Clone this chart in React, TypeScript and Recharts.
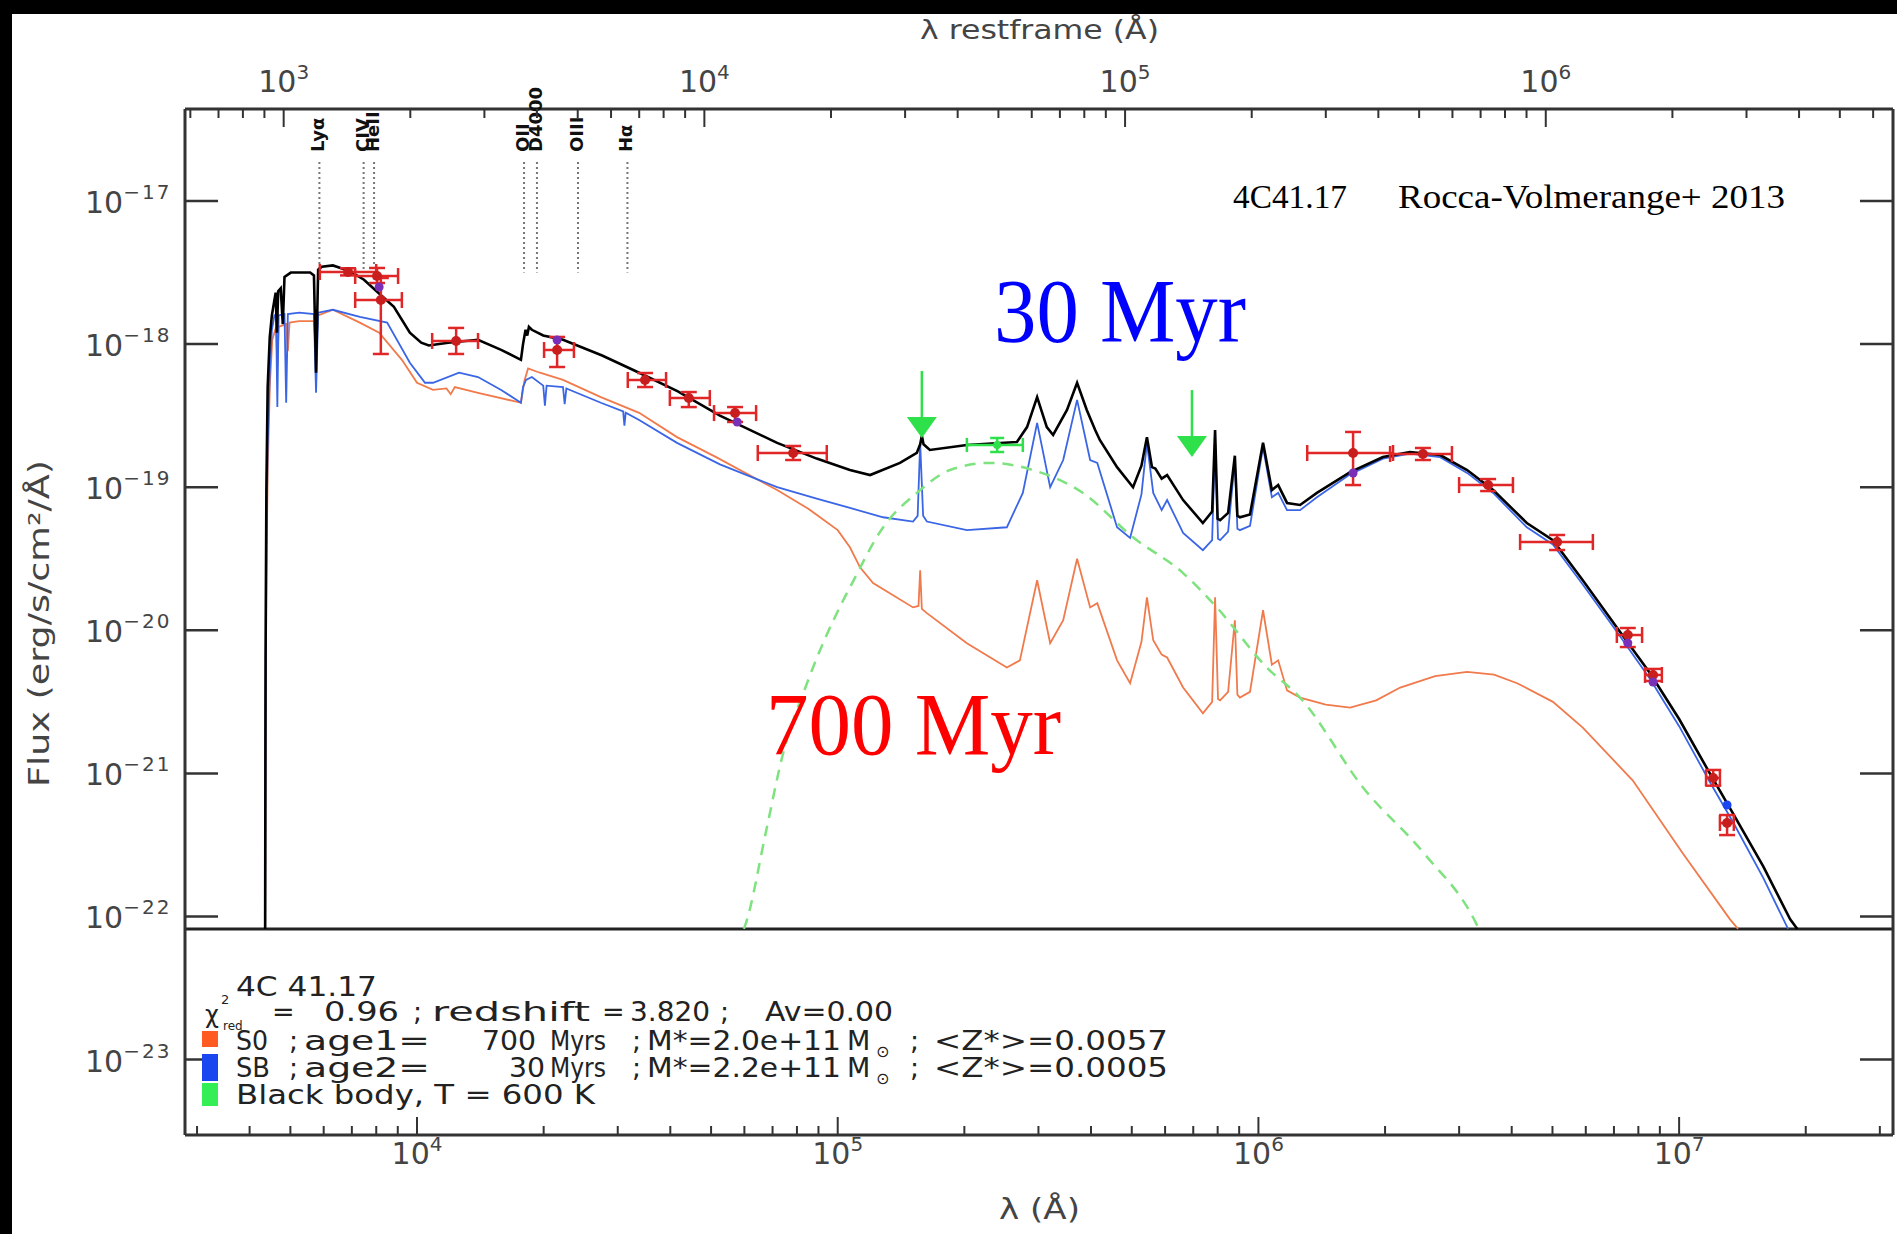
import React from 'react';
import { ComposedChart, Line, Scatter, XAxis, YAxis, ErrorBar, ReferenceLine } from 'recharts';

const W = 1897;
const H = 1234;

// axes work in log10 units
const X_MIN = 3.4485;
const X_MAX = 7.5084;
const Y_MIN = -23.527;
const Y_MAX = -16.357;
const PANEL_BOTTOM = -22.087;
const LINE_TOP = -16.727;
const LINE_BOTTOM = -17.5;
const REDSHIFT = 3.82;
const REST_SHIFT = Math.log10(1 + REDSHIFT);

const obsDecades = [4, 5, 6, 7];
const restDecades = [3, 4, 5, 6];
const fluxDecades = [-17, -18, -19, -20, -21, -22, -23];
const minorSteps = [2, 3, 4, 5, 6, 7, 8, 9];

// [log10 lambda_obs (A), log10 F_lambda (erg/s/cm2/A)]
const sedTotal: [number, number][] = [
  [3.639, -22.087], [3.64, -20.2], [3.642, -19.0], [3.645, -18.3], [3.65, -17.95], [3.655, -17.8],
  [3.66, -17.71], [3.664, -17.64], [3.667, -17.92], [3.67, -17.63], [3.676, -17.61], [3.681, -17.86],
  [3.685, -17.53], [3.7, -17.5], [3.746, -17.5], [3.755, -17.52], [3.76, -18.2], [3.765, -17.48],
  [3.774, -17.46], [3.8, -17.45], [3.84, -17.49], [3.874, -17.55], [3.9, -17.62], [3.945, -17.74],
  [3.983, -17.92], [4.01, -17.99], [4.028, -18.01], [4.074, -17.99], [4.145, -17.97], [4.2, -18.04],
  [4.247, -18.11], [4.252, -18.0], [4.258, -17.9], [4.262, -17.94], [4.266, -17.88], [4.273, -17.9],
  [4.3, -17.94], [4.347, -17.97], [4.44, -18.08], [4.528, -18.2], [4.62, -18.33], [4.72, -18.5],
  [4.856, -18.69], [4.95, -18.8], [5.029, -18.88], [5.077, -18.915], [5.148, -18.83], [5.188, -18.76],
  [5.196, -18.7], [5.2, -18.64], [5.204, -18.7], [5.219, -18.74], [5.307, -18.705], [5.426, -18.684],
  [5.45, -18.58], [5.474, -18.37], [5.497, -18.58], [5.512, -18.635], [5.545, -18.46], [5.569, -18.27],
  [5.592, -18.46], [5.612, -18.6], [5.623, -18.67], [5.664, -18.86], [5.702, -19.0], [5.722, -18.85],
  [5.735, -18.65], [5.747, -18.86], [5.755, -18.87], [5.77, -18.94], [5.783, -18.915], [5.821, -19.09],
  [5.868, -19.25], [5.89, -19.17], [5.897, -18.6], [5.903, -19.22], [5.909, -19.23], [5.928, -19.18],
  [5.944, -18.78], [5.95, -19.2], [5.956, -19.21], [5.98, -19.19], [6.011, -18.69], [6.032, -19.02],
  [6.047, -18.985], [6.068, -19.11], [6.099, -19.124], [6.139, -19.04], [6.218, -18.894], [6.296, -18.789],
  [6.36, -18.754], [6.432, -18.775], [6.496, -18.88], [6.558, -19.02], [6.638, -19.25], [6.7, -19.37],
  [6.771, -19.65], [6.852, -19.98], [6.931, -20.3], [7.0, -20.62], [7.073, -21.0], [7.128, -21.28],
  [7.2, -21.65], [7.264, -22.02], [7.281, -22.087],
];

const sedSB: [number, number][] = [
  [3.639, -22.087], [3.64, -20.5], [3.642, -19.4], [3.645, -18.7], [3.65, -18.2], [3.655, -17.9],
  [3.661, -17.8], [3.665, -17.79], [3.668, -18.44], [3.671, -17.8], [3.685, -17.79], [3.689, -18.41],
  [3.693, -17.79], [3.72, -17.78], [3.755, -17.79], [3.76, -18.34], [3.765, -17.78], [3.8, -17.76],
  [3.864, -17.81], [3.929, -17.85], [3.983, -18.13], [4.019, -18.27], [4.038, -18.27], [4.1, -18.2],
  [4.145, -18.23], [4.2, -18.32], [4.247, -18.41], [4.252, -18.3], [4.259, -18.25], [4.273, -18.23],
  [4.3, -18.29], [4.304, -18.43], [4.308, -18.29], [4.347, -18.3], [4.351, -18.42], [4.355, -18.31],
  [4.437, -18.41], [4.49, -18.47], [4.493, -18.57], [4.496, -18.48], [4.528, -18.53], [4.618, -18.69],
  [4.72, -18.84], [4.856, -19.0], [4.95, -19.08], [5.029, -19.145], [5.108, -19.21], [5.179, -19.24],
  [5.19, -19.2], [5.196, -18.69], [5.203, -19.2], [5.212, -19.24], [5.307, -19.3], [5.402, -19.28],
  [5.44, -19.04], [5.474, -18.55], [5.505, -19.0], [5.536, -18.81], [5.569, -18.39], [5.6, -18.81],
  [5.617, -18.83], [5.664, -19.28], [5.695, -19.355], [5.722, -19.05], [5.735, -18.69], [5.75, -19.04],
  [5.77, -19.16], [5.783, -19.09], [5.821, -19.32], [5.868, -19.44], [5.89, -19.37], [5.897, -18.67],
  [5.904, -19.36], [5.909, -19.37], [5.928, -19.31], [5.944, -18.81], [5.95, -19.29], [5.956, -19.3],
  [5.98, -19.27], [6.011, -18.72], [6.032, -19.07], [6.047, -19.04], [6.068, -19.16], [6.099, -19.16],
  [6.139, -19.07], [6.218, -18.91], [6.296, -18.8], [6.36, -18.765], [6.432, -18.79], [6.496, -18.9],
  [6.558, -19.04], [6.638, -19.28], [6.7, -19.4], [6.771, -19.68], [6.852, -20.01], [6.931, -20.34],
  [7.0, -20.67], [7.073, -21.06], [7.128, -21.34], [7.2, -21.73], [7.259, -22.087],
];

const sedS0: [number, number][] = [
  [3.639, -22.087], [3.64, -20.8], [3.642, -19.6], [3.645, -18.9], [3.65, -18.3], [3.656, -17.97],
  [3.665, -17.88], [3.668, -18.15], [3.671, -17.88], [3.689, -17.86], [3.693, -18.05], [3.697, -17.85],
  [3.72, -17.84], [3.755, -17.84], [3.76, -18.05], [3.765, -17.8], [3.8, -17.76], [3.864, -17.85],
  [3.91, -17.92], [3.964, -18.11], [4.0, -18.27], [4.038, -18.32], [4.07, -18.31], [4.08, -18.35],
  [4.09, -18.3], [4.145, -18.34], [4.247, -18.41], [4.255, -18.26], [4.264, -18.17], [4.292, -18.2],
  [4.347, -18.25], [4.437, -18.37], [4.528, -18.48], [4.618, -18.65], [4.711, -18.79], [4.856, -19.02],
  [4.93, -19.15], [5.0, -19.3], [5.029, -19.42], [5.053, -19.56], [5.084, -19.67], [5.179, -19.84],
  [5.192, -19.83], [5.196, -19.58], [5.2, -19.85], [5.212, -19.88], [5.307, -20.09], [5.402, -20.26],
  [5.433, -20.21], [5.474, -19.65], [5.505, -20.09], [5.536, -19.93], [5.569, -19.5], [5.6, -19.84],
  [5.617, -19.81], [5.664, -20.21], [5.695, -20.37], [5.722, -20.08], [5.735, -19.77], [5.75, -20.07],
  [5.77, -20.17], [5.783, -20.19], [5.821, -20.4], [5.868, -20.58], [5.89, -20.5], [5.897, -19.77],
  [5.904, -20.48], [5.909, -20.49], [5.928, -20.43], [5.944, -19.93], [5.95, -20.45], [5.956, -20.47],
  [5.98, -20.43], [6.011, -19.86], [6.032, -20.24], [6.047, -20.21], [6.068, -20.42], [6.099, -20.47],
  [6.16, -20.52], [6.218, -20.54], [6.28, -20.49], [6.337, -20.4], [6.42, -20.32], [6.496, -20.29],
  [6.56, -20.31], [6.615, -20.37], [6.7, -20.5], [6.771, -20.68], [6.89, -21.05], [7.009, -21.56],
  [7.121, -22.02], [7.14, -22.087],
];

const sedBB: [number, number][] = [
  [4.777, -22.087], [4.782, -22.045], [4.83, -21.4], [4.868, -20.885], [4.927, -20.37], [5.013, -19.79],
  [5.029, -19.7], [5.108, -19.28], [5.188, -19.04], [5.267, -18.88], [5.362, -18.83], [5.464, -18.88],
  [5.583, -19.04], [5.702, -19.35], [5.821, -19.6], [5.901, -19.84], [6.02, -20.26], [6.099, -20.47],
  [6.249, -21.1], [6.394, -21.56], [6.517, -22.045], [6.524, -22.087],
];

// photometry (red), log10 units
const photLam = [3.836, 3.905, 3.914, 4.093, 4.333, 4.542, 4.646, 4.756, 4.894, 6.225, 6.391, 6.546, 6.71, 6.878, 6.938, 7.081, 7.114];
const photFlux = [-17.496, -17.524, -17.692, -17.978, -18.041, -18.251, -18.377, -18.482, -18.761, -18.761, -18.768, -18.985, -19.383, -20.033, -20.312, -21.032, -21.347];
const photLamLo = [3.769, 3.853, 3.853, 4.036, 4.302, 4.501, 4.601, 4.706, 4.81, 6.116, 6.313, 6.477, 6.622, 6.852, 6.919, 7.064, 7.097];
const photLamHi = [3.903, 3.955, 3.964, 4.145, 4.373, 4.592, 4.696, 4.806, 4.974, 6.32, 6.46, 6.605, 6.795, 6.912, 6.959, 7.097, 7.13];
const photFluxLo = [-17.52, -17.573, -18.069, -18.069, -18.16, -18.3, -18.44, -18.544, -18.81, -18.985, -18.81, -19.027, -19.439, -20.117, -20.354, -21.086, -21.431];
const photFluxHi = [-17.47, -17.468, -17.538, -17.887, -17.95, -18.202, -18.335, -18.44, -18.712, -18.614, -18.726, -18.943, -19.334, -19.984, -20.27, -20.976, -21.291];

// model fluxes in the filters
const modelLam = [3.91, 4.333, 4.761, 6.225, 6.878, 6.938];
const modelFlux = [-17.601, -17.971, -18.544, -18.901, -20.089, -20.361];
const modelSBLam = [7.114];
const modelSBFlux = [-21.221];

// green: dust point and upper limits
const irLam = [5.379];
const irFlux = [-18.705];
const irLamLo = [5.307];
const irLamHi = [5.44];
const irFluxLo = [-18.754];
const irFluxHi = [-18.656];
const limitLam = [5.2, 5.842];
const limitFlux = [-18.188, -18.321];

// spectral features (rest frame, A)
const featureNames = ['Lyα', 'CIV', 'HeII', 'OII', 'D4000', 'OIII', 'Hα'];
const featureRest = [1216, 1549, 1640, 3727, 4000, 5007, 6563];

const toXY = (pts: [number, number][]) => pts.map(([x, y]) => ({ x, y }));

const photData = photLam.map((x, i) => ({
  x,
  y: photFlux[i],
  ex: [x - photLamLo[i], photLamHi[i] - x],
  ey: [photFlux[i] - photFluxLo[i], photFluxHi[i] - photFlux[i]],
}));
const irData = irLam.map((x, i) => ({
  x,
  y: irFlux[i],
  ex: [x - irLamLo[i], irLamHi[i] - x],
  ey: [irFlux[i] - irFluxLo[i], irFluxHi[i] - irFlux[i]],
}));
const modelData = modelLam.map((x, i) => ({ x, y: modelFlux[i] }));
const modelSBData = modelSBLam.map((x, i) => ({ x, y: modelSBFlux[i] }));
const limitData = limitLam.map((x, i) => ({ x, y: limitFlux[i] }));
// features sit on the rest-frame (top) axis
const featureX = featureRest.map((l) => Math.log10(l));
const featureData = featureX.map((x, i) => ({ x, y: LINE_TOP, name: featureNames[i] }));

const withMinors = (decades: number[], lo: number, hi: number) => {
  const out: number[] = [];
  for (let d = decades[0] - 1; d <= decades[decades.length - 1]; d++) {
    out.push(d);
    minorSteps.forEach((m) => out.push(d + Math.log10(m)));
  }
  return out.filter((v) => v > lo && v < hi);
};
const obsTicks = withMinors(obsDecades, X_MIN, X_MAX);
const restTicks = withMinors(restDecades, X_MIN - REST_SHIFT, X_MAX - REST_SHIFT);

const SANS = 'DejaVu Sans, sans-serif';
const SERIF = 'Liberation Serif, Times New Roman, serif';
const AXIS = '#333';
const LABEL = '#444';

const xTick = (side: 'top' | 'bottom', labels: number[]) => (props: any) => {
  const { x, y, payload } = props;
  const v = payload.value as number;
  const major = Math.abs(v - Math.round(v)) < 1e-6;
  const dir = side === 'top' ? 1 : -1;
  const len = major ? 18 : 9;
  const show = major && labels.includes(Math.round(v));
  return (
    <g>
      <line x1={x} y1={y} x2={x} y2={y + dir * len} stroke={AXIS} strokeWidth={2} />
      {show && (
        <text x={x} y={side === 'top' ? y - 17 : y + 29} textAnchor="middle" fontFamily={SANS} fontSize={30} fill={LABEL}>
          10<tspan dy={-13} fontSize={20}>{Math.round(v)}</tspan>
        </text>
      )}
    </g>
  );
};

const yTick = (side: 'left' | 'right') => (props: any) => {
  const { x, y, payload } = props;
  const v = Math.round(payload.value);
  const dir = side === 'left' ? 1 : -1;
  return (
    <g>
      <line x1={x} y1={y} x2={x + dir * 33} y2={y} stroke={AXIS} strokeWidth={2.5} />
      {side === 'left' && (
        <text x={x - 100} y={y + 12} fontFamily={SANS} fontSize={30} fill={LABEL}>
          10<tspan dy={-14} fontSize={20} letterSpacing={2}>{'\u2212' + Math.abs(v)}</tspan>
        </text>
      )}
    </g>
  );
};

const Dot = (color: string, r: number) => (props: any) => (
  <circle cx={props.cx} cy={props.cy} r={r} fill={color} />
);

const LimitArrow = (props: any) => {
  const { cx, cy } = props;
  return (
    <g>
      <line x1={cx} y1={cy} x2={cx} y2={cy + 48} stroke="#2ee04a" strokeWidth={2.5} />
      <polygon points={`${cx - 15},${cy + 46} ${cx + 15},${cy + 46} ${cx},${cy + 67}`} fill="#2ee04a" />
    </g>
  );
};

const FeatureLabel = (props: any) => {
  const { cx, cy, payload } = props;
  return (
    <text transform={`translate(${cx + 5},${cy - 10}) rotate(-90)`} fontFamily={SANS} fontWeight="bold" fontSize={18} fill="#111">
      {payload.name}
    </text>
  );
};

type Seg = [string, number, number];
const legendRows: { y: number; segs: Seg[] }[] = [
  { y: 996, segs: [['4C 41.17', 236, 141]] },
  { y: 1021, segs: [['=', 272, 12], ['0.96', 324, 75], [';', 413, 7], ['redshift', 432, 158], ['=', 602, 14], ['3.820', 630, 80], [';', 720, 7], ['Av=0.00', 765, 128]] },
  { y: 1050, segs: [['S0', 236, 32], [';', 289, 7], ['age1=', 304, 126], ['700', 482, 54], ['Myrs', 550, 56], [';', 632, 7], ['M*=2.0e+11', 647, 194], ['M', 847, 27], [';', 910, 7], ['<Z*>=0.0057', 934, 234]] },
  { y: 1077, segs: [['SB', 236, 34], [';', 289, 7], ['age2=', 304, 126], ['30', 509, 36], ['Myrs', 550, 56], [';', 632, 7], ['M*=2.2e+11', 647, 194], ['M', 847, 27], [';', 910, 7], ['<Z*>=0.0005', 934, 234]] },
  { y: 1104, segs: [['Black body, T = 600 K', 236, 359]] },
];

const Overlay = () => (
  <svg width={W} height={H} style={{ position: 'absolute', left: 0, top: 0, pointerEvents: 'none' }}>
    <rect x={0} y={0} width={W} height={14} fill="#000" />
    <rect x={0} y={0} width={12} height={H} fill="#000" />
    <text x={920} y={39} textLength={239} lengthAdjust="spacingAndGlyphs" fontFamily={SANS} fontSize={26} fill={LABEL}>λ restframe (Å)</text>
    <text x={999} y={1219} textLength={81} lengthAdjust="spacingAndGlyphs" fontFamily={SANS} fontSize={28} fill={LABEL}>λ (Å)</text>
    <text transform="translate(49,787) rotate(-90)" textLength={327} lengthAdjust="spacingAndGlyphs" fontFamily={SANS} fontSize={28} fill={LABEL}>Flux (erg/s/cm²/Å)</text>
    <text x={1233} y={208} textLength={114} lengthAdjust="spacingAndGlyphs" fontFamily={SERIF} fontSize={33} fill="#000">4C41.17</text>
    <text x={1398} y={208} textLength={387} lengthAdjust="spacingAndGlyphs" fontFamily={SERIF} fontSize={33} fill="#000">Rocca-Volmerange+ 2013</text>
    <text x={994} y={342} textLength={252} lengthAdjust="spacingAndGlyphs" fontFamily={SERIF} fontSize={90} fill="#0000ff">30 Myr</text>
    <text x={766} y={754} textLength={295} lengthAdjust="spacingAndGlyphs" fontFamily={SERIF} fontSize={88} fill="#ff0000">700 Myr</text>
    <text x={205} y={1023} fontFamily={SANS} fontSize={24} fill="#222">χ</text>
    <text x={221} y={1004} fontFamily={SANS} fontSize={13} fill="#222">2</text>
    <text x={223} y={1030} fontFamily={SANS} fontSize={12} fill="#222">red</text>
    <rect x={202} y={1031} width={16} height={16} fill="#ff5a1f" />
    <rect x={202} y={1054} width={16} height={27} fill="#1a46f0" />
    <rect x={202} y={1083} width={16} height={23} fill="#33ee55" />
    {legendRows.map((row, r) => (
      <g key={r}>
        {row.segs.map(([t, x, w], i) => (
          <text key={i} x={x} y={row.y} textLength={t.length > 1 ? w : undefined} lengthAdjust="spacingAndGlyphs" fontFamily={SANS} fontSize={27} fill="#222">
            {t}
          </text>
        ))}
      </g>
    ))}
    <text x={876} y={1057} fontFamily={SANS} fontSize={16} fill="#222">⊙</text>
    <text x={876} y={1084} fontFamily={SANS} fontSize={16} fill="#222">⊙</text>
  </svg>
);

export default function App() {
  return (
    <div style={{ position: 'absolute', left: 0, top: 0, width: W, height: H, background: '#fff' }}>
      <ComposedChart width={W} height={H} margin={{ top: 108, right: 3, bottom: 98, left: 184 }}>
        <XAxis
          xAxisId="obs" dataKey="x" type="number" orientation="bottom" domain={[X_MIN, X_MAX]}
          ticks={obsTicks} interval={0} height={1} tickSize={0} tickMargin={0} tickLine={false}
          axisLine={{ stroke: AXIS, strokeWidth: 3 }} tick={xTick('bottom', obsDecades)}
        />
        <XAxis
          xAxisId="rest" dataKey="x" type="number" orientation="top" domain={[X_MIN - REST_SHIFT, X_MAX - REST_SHIFT]}
          ticks={restTicks} interval={0} height={1} tickSize={0} tickMargin={0} tickLine={false}
          axisLine={{ stroke: AXIS, strokeWidth: 3 }} tick={xTick('top', restDecades)}
        />
        <YAxis
          yAxisId="left" type="number" domain={[Y_MIN, Y_MAX]} ticks={fluxDecades} interval={0}
          width={1} tickSize={0} tickMargin={0} tickLine={false}
          axisLine={{ stroke: AXIS, strokeWidth: 3 }} tick={yTick('left')}
        />
        <YAxis
          yAxisId="right" orientation="right" type="number" domain={[Y_MIN, Y_MAX]} ticks={fluxDecades} interval={0}
          width={1} tickSize={0} tickMargin={0} tickLine={false}
          axisLine={{ stroke: AXIS, strokeWidth: 3 }} tick={yTick('right')}
        />
        <ReferenceLine xAxisId="obs" yAxisId="left" y={PANEL_BOTTOM} stroke="#222" strokeWidth={3} />
        {featureX.map((x, i) => (
          <ReferenceLine
            key={i} xAxisId="rest" yAxisId="left"
            segment={[{ x, y: LINE_TOP }, { x, y: LINE_BOTTOM }]}
            stroke="#777" strokeWidth={2} strokeDasharray="2 3"
          />
        ))}
        <Line xAxisId="obs" yAxisId="left" data={toXY(sedS0)} dataKey="y" type="linear" dot={false} stroke="#f07a4c" strokeWidth={1.8} isAnimationActive={false} />
        <Line xAxisId="obs" yAxisId="left" data={toXY(sedSB)} dataKey="y" type="linear" dot={false} stroke="#3a66e6" strokeWidth={1.8} isAnimationActive={false} />
        <Line xAxisId="obs" yAxisId="left" data={toXY(sedBB)} dataKey="y" type="monotone" dot={false} stroke="#7ee27e" strokeWidth={2.5} strokeDasharray="11 8" isAnimationActive={false} />
        <Line xAxisId="obs" yAxisId="left" data={toXY(sedTotal)} dataKey="y" type="linear" dot={false} stroke="#000" strokeWidth={2.6} isAnimationActive={false} />
        <Scatter xAxisId="obs" yAxisId="left" data={irData} dataKey="y" shape={Dot('#2ee04a', 4)} isAnimationActive={false}>
          <ErrorBar dataKey="ex" direction="x" width={7} stroke="#2ee04a" strokeWidth={2.5} />
          <ErrorBar dataKey="ey" direction="y" width={7} stroke="#2ee04a" strokeWidth={2.5} />
        </Scatter>
        <Scatter xAxisId="obs" yAxisId="right" data={limitData} dataKey="y" shape={LimitArrow} isAnimationActive={false} />
        <Scatter xAxisId="obs" yAxisId="left" data={photData} dataKey="y" shape={Dot('#c81e1e', 5)} isAnimationActive={false}>
          <ErrorBar dataKey="ex" direction="x" width={8} stroke="#e02626" strokeWidth={2.5} />
          <ErrorBar dataKey="ey" direction="y" width={8} stroke="#e02626" strokeWidth={2.5} />
        </Scatter>
        <Scatter xAxisId="obs" yAxisId="left" data={modelData} dataKey="y" shape={Dot('#7a2fb8', 4.5)} isAnimationActive={false} />
        <Scatter xAxisId="obs" yAxisId="left" data={modelSBData} dataKey="y" shape={Dot('#1a46f0', 4.5)} isAnimationActive={false} />
        <Scatter xAxisId="rest" yAxisId="left" data={featureData} dataKey="y" shape={FeatureLabel} isAnimationActive={false} />
      </ComposedChart>
      <Overlay />
    </div>
  );
}
